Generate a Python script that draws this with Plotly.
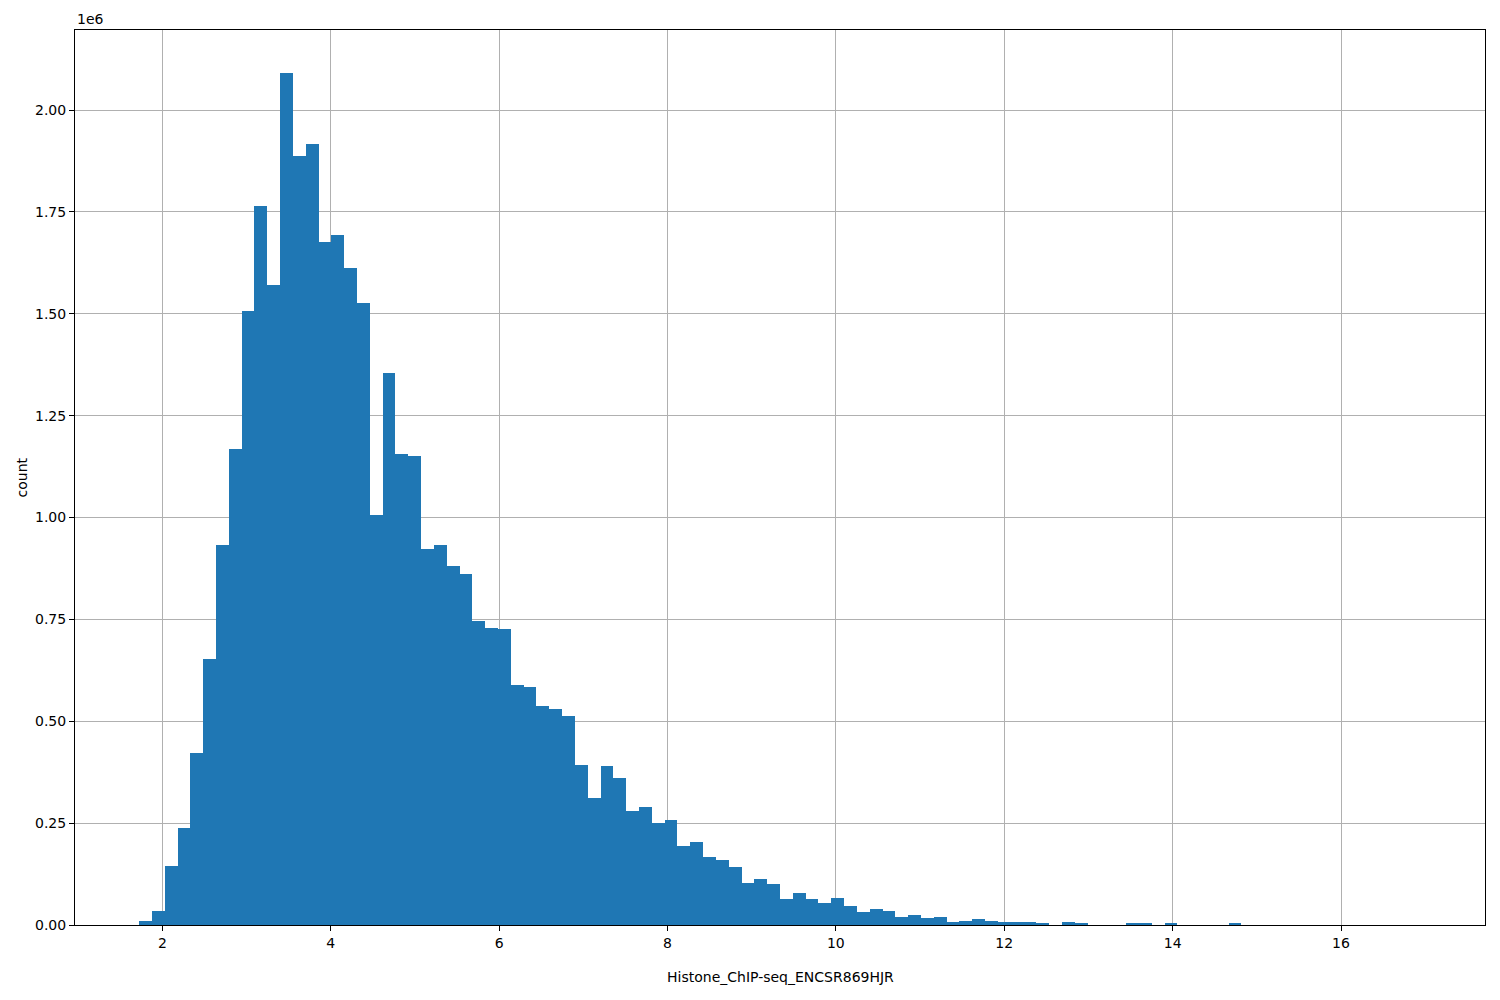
import plotly.graph_objects as go

# ------------------------------------------------------------
# data (100 bins)
# ------------------------------------------------------------
X_LABEL = "Histone_ChIP-seq_ENCSR869HJR"
Y_LABEL = "count"

BIN_START = 1.724
BIN_WIDTH = 0.15225

counts = [
    10000, 35000, 145000, 238000, 422000, 653000, 932000, 1168000, 1506000, 1764000,
    1570000, 2092000, 1887000, 1916000, 1676000, 1693000, 1612000, 1526000, 1007000, 1355000,
    1156000, 1151000, 923000, 933000, 881000, 861000, 746000, 729000, 726000, 589000,
    584000, 537000, 530000, 513000, 393000, 312000, 390000, 361000, 280000, 290000,
    250000, 258000, 194000, 204000, 167000, 160000, 142000, 103000, 113000, 101000,
    64000, 78000, 64000, 54000, 66000, 47000, 32000, 39000, 34000, 20000,
    24500, 17000, 20000, 7400, 9800, 14700, 9800, 7400, 7400, 7400,
    5000, 0, 7400, 5000, 0, 0, 0, 5000, 2500, 0,
    5000, 0, 0, 0, 0, 2500, 0, 0, 0, 0,
    0, 0, 0, 0, 0, 0, 0, 0, 0, 0,
]

y_tick_vals = [0, 250000, 500000, 750000, 1000000, 1250000, 1500000, 1750000, 2000000]
y_tick_text = ["0.00", "0.25", "0.50", "0.75", "1.00", "1.25", "1.50", "1.75", "2.00"]
x_tick_vals = [2, 4, 6, 8, 10, 12, 14, 16]

FONT = "DejaVu Sans, Arial"

# bin centres
centers = [BIN_START + BIN_WIDTH * (i + 0.5) for i in range(len(counts))]

# matplotlib-style 5% margins on x
x_lo = BIN_START
x_hi = BIN_START + BIN_WIDTH * len(counts)
pad = 0.05 * (x_hi - x_lo)

fig = go.Figure()
fig.add_trace(go.Bar(
    x=centers,
    y=counts,
    width=BIN_WIDTH,
    marker=dict(color="#1f77b4", line=dict(width=0)),
    hovertemplate="%{x:.2f}: %{y}<extra></extra>",
))

axis_common = dict(
    showline=True, linecolor="black", linewidth=1, mirror=True,
    ticks="outside", ticklen=5, tickwidth=1, tickcolor="black",
    showgrid=True, gridcolor="#b0b0b0", gridwidth=1,
    zeroline=False, layer="above traces", automargin=False,
    tickfont=dict(family=FONT, size=14, color="black"),
)

fig.update_xaxes(range=[x_lo - pad, x_hi + pad], tickvals=x_tick_vals, **axis_common)
fig.update_yaxes(
    range=[0, max(counts) * 1.05],
    tickvals=y_tick_vals,
    ticktext=y_tick_text,
    **axis_common,
)

# axis titles + matplotlib's "1e6" offset text as annotations (fixed margins)
title_font = dict(family=FONT, size=14, color="black")
fig.add_annotation(
    text=X_LABEL, xref="paper", yref="paper", x=0.5, y=0,
    xanchor="center", yanchor="middle", yshift=-52, showarrow=False, font=title_font,
)
fig.add_annotation(
    text=Y_LABEL, xref="paper", yref="paper", x=0, y=0.5, textangle=-90,
    xanchor="center", yanchor="middle", xshift=-54, showarrow=False, font=title_font,
)
fig.add_annotation(
    text="1e6", xref="paper", yref="paper", x=0, y=1,
    xanchor="left", yanchor="bottom", showarrow=False, yshift=1, font=title_font,
)

# page puts the figure ~8px in, margins are shifted to keep the plot box in place
fig.update_layout(
    width=1500, height=1000,
    margin=dict(l=67, r=23, t=22, b=83),
    plot_bgcolor="white", paper_bgcolor="white",
    bargap=0, showlegend=False,
    font=dict(family=FONT),
)

fig.write_html("out.html")
